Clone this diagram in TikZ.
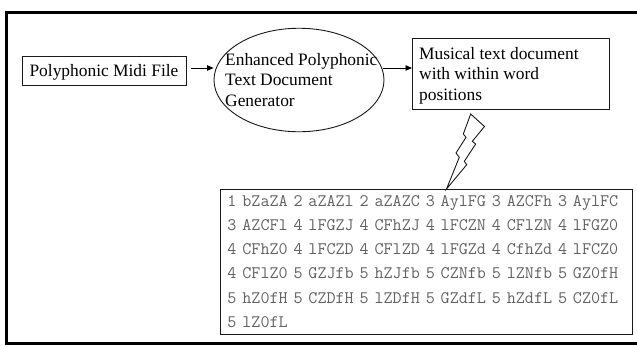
\documentclass[tikz,border=0pt]{standalone}
\usepackage{fontspec}
\setmainfont{Liberation Serif}
\usetikzlibrary{arrows.meta,shapes.geometric,calc}

\tikzset{
  box/.style={draw=black!90, line width=0.9pt, inner sep=0pt},
  bodytext/.style={inner sep=0pt, align=left, font=\fontsize{17.4}{20.6}\selectfont},
  codetext/.style={align=left, inner xsep=7pt, inner ysep=0pt, text=black!62,
    font=\ttfamily\fontsize{17.6}{24.2}\selectfont},
  arr/.style={line width=0.9pt, -{Triangle[length=6.5pt,width=5.5pt]}},
  bolt/.style={draw=black!90, line width=0.9pt, line join=miter},
  frame/.style={line width=3pt},
}

\begin{document}
\begin{tikzpicture}[x=1pt,y=-1pt]
  \useasboundingbox (0,0) rectangle (637,346);

  % outer frame (its right side runs past the page edge)
  \begin{scope}
    \clip (0,0) rectangle (637,346);
    \draw[frame] (6.5,12.5) rectangle (650,343.5);
  \end{scope}

  % input file
  \node[box, minimum width=164pt, minimum height=29pt,
        text height=12pt, text depth=0pt, font=\fontsize{17.4}{20.6}\selectfont]
        (midi) at (104,70.5) {Polyphonic Midi File};

  % generator
  \node[box, ellipse, minimum width=170pt, minimum height=103.5pt] (gen) at (299,80) {};
  \node[bodytext, anchor=north west] (gentext) at (225,50.6)
    {\strut Enhanced Polyphonic\\\strut Text Document\\\strut Generator};

  % output document
  \node[box, anchor=north west, minimum width=197pt, minimum height=71pt] (doc) at (412,38) {};
  \node[bodytext, anchor=north west] (doctext) at (419,44.6)
    {\strut Musical text document\\\strut with within word\\\strut positions};

  % encoded words
  \node[box, codetext, anchor=north west, text width=398pt] (code) at (220,189)
    {\strut 1 bZaZA 2 aZAZl 2 aZAZC 3 AylFG 3 AZCFh 3 AylFC\\
     \strut 3 AZCFl 4 lFGZJ 4 CFhZJ 4 lFCZN 4 CFlZN 4 lFGZ0\\
     \strut 4 CFhZ0 4 lFCZD 4 CFlZD 4 lFGZd 4 CfhZd 4 lFCZ0\\
     \strut 4 CFlZ0 5 GZJfb 5 hZJfb 5 CZNfb 5 lZNfb 5 GZ0fH\\
     \strut 5 hZ0fH 5 CZDfH 5 lZDfH 5 GZdfL 5 hZdfL 5 CZ0fL\\
     \strut 5 lZ0fL};

  % connectors
  \coordinate (a1s) at ($(midi.east)+(4.5,-2.5)$);
  \draw[arr] (a1s) -- (a1s -| gen.west);
  \coordinate (a2s) at ($(gen.east)+(-1,-12)$);
  \draw[arr] (a2s) -- (a2s -| doc.west);

  % lightning bolt from the document down to the word list
  \draw[bolt] (470.7,114) -- (484.5,126.5) -- (472.3,141.3) -- (475.7,144)
    -- (464.3,161.3) -- (466.7,164.7) -- (446.5,189) -- (459.3,157.3)
    -- (456,153) -- (466,137.3) -- (463.3,134) -- cycle;
\end{tikzpicture}
\end{document}
